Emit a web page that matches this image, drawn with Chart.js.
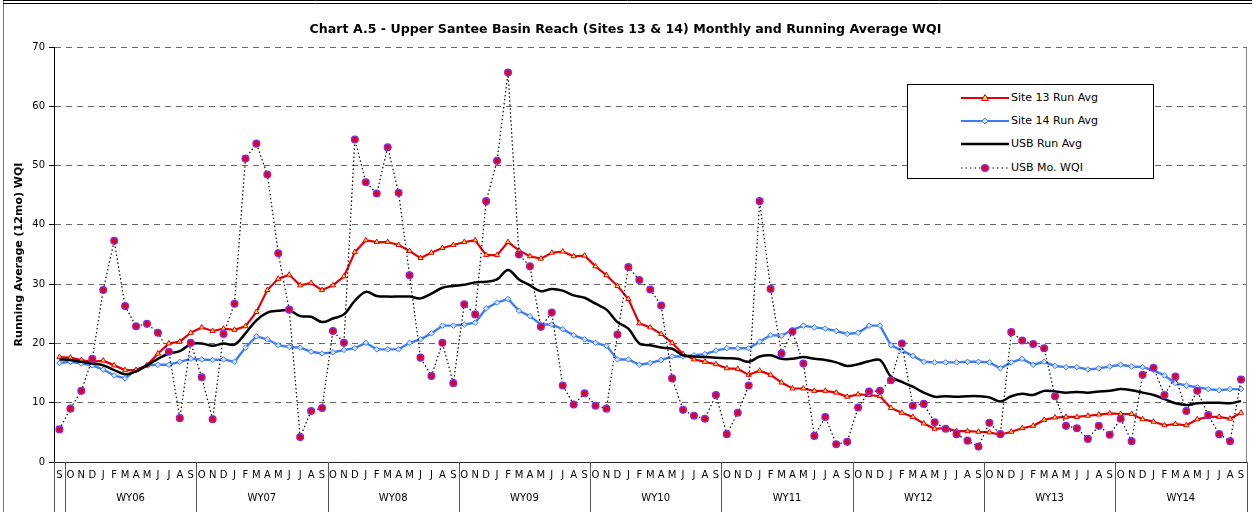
<!DOCTYPE html>
<html>
<head>
<meta charset="utf-8">
<title>Chart A.5 - Upper Santee Basin Reach</title>
<script src="https://cdn.jsdelivr.net/npm/chart.js@4.4.1/dist/chart.umd.min.js"></script>
<style>
  html, body { margin: 0; padding: 0; background: #fff; }
  #wrap { position: relative; width: 1252px; height: 512px; }
  #chart { display: block; }
  #legend {
    position: absolute; left: 907px; top: 84px; width: 245px; height: 93px;
    border: 1px solid #000; background: #fff;
    font: 11px "DejaVu Sans", Verdana, sans-serif; color: #000;
  }
  #legend .item { position: absolute; left: 0; height: 14px; }
  #legend svg { position: absolute; left: 53px; top: 1px; }
  #legend span { position: absolute; left: 103px; top: 0; line-height: 14px; white-space: nowrap; }
</style>
</head>
<body>
<div id="wrap">
  <canvas id="chart" width="1252" height="512"></canvas>
  <div id="legend">
    <div class="item" style="top:6px">
      <svg width="48" height="12"><line x1="0" y1="6" x2="48" y2="6" stroke="#e3000f" stroke-width="2"/><polygon points="24,2.5 27.5,8.5 20.5,8.5" fill="#ffe040" stroke="#e3000f" stroke-width="1"/></svg>
      <span>Site 13 Run Avg</span>
    </div>
    <div class="item" style="top:29px">
      <svg width="48" height="12"><line x1="0" y1="6" x2="48" y2="6" stroke="#3f7ef2" stroke-width="2"/><polygon points="24,3 27,6 24,9 21,6" fill="#cfe0ff" stroke="#3f7ef2" stroke-width="1"/></svg>
      <span>Site 14 Run Avg</span>
    </div>
    <div class="item" style="top:52px">
      <svg width="48" height="12"><line x1="0" y1="6" x2="48" y2="6" stroke="#000" stroke-width="2.5"/></svg>
      <span>USB Run Avg</span>
    </div>
    <div class="item" style="top:76px">
      <svg width="48" height="12"><line x1="0" y1="6" x2="48" y2="6" stroke="#000" stroke-width="1" stroke-dasharray="1.5,3"/><circle cx="24" cy="6" r="3.3" fill="#e3000f" stroke="#8a2be2" stroke-width="1.5"/></svg>
      <span>USB Mo. WQI</span>
    </div>
  </div>
</div>
<script>
const monthCycle = ['O', 'N', 'D', 'J', 'F', 'M', 'A', 'M', 'J', 'J', 'A', 'S'];
const waterYears = ['WY06', 'WY07', 'WY08', 'WY09', 'WY10', 'WY11', 'WY12', 'WY13', 'WY14'];
const yTicks = [0, 10, 20, 30, 40, 50, 60, 70];

// Sep 2005 then Oct..Sep for each water year
const months = ['S'];
waterYears.forEach(() => months.push(...monthCycle));

const site13RunAvg = [
  17.7, 17.6, 17.2, 16.9, 17.1, 16.3, 15.5, 15.5, 16.3, 18.3, 20.0, 20.3, 21.8, 22.7, 22.1, 22.5, 22.3, 22.9, 25.3, 29.0,
  30.9, 31.6, 29.8, 30.2, 29.0, 29.8, 31.3, 35.4,
  37.4, 37.1, 37.1, 36.6, 35.6, 34.4, 35.3, 36.1, 36.6, 37.1, 37.4, 34.9, 34.9, 37.1, 35.7, 34.7, 34.3, 35.3, 35.5, 34.7,
  34.8, 33.0, 31.5, 29.7, 27.5, 23.4, 22.7,
  21.6, 20.1, 18.2, 17.3, 16.9, 16.5, 15.8, 15.7, 14.7, 15.4, 14.7, 13.4, 12.4, 12.4, 12.0, 12.0, 11.7, 11.0, 11.4, 11.3,
  11.1, 9.1, 8.3, 7.6, 6.5, 5.6, 5.7, 5.2,
  5.2, 5.1, 5.0, 4.6, 5.1, 5.7, 6.1, 7.1, 7.5, 7.6, 7.6, 7.8, 8.0, 8.2, 8.1, 8.1, 7.2, 6.8, 6.2, 6.4, 6.2, 7.2, 7.6, 7.6,
  7.3, 8.3,
];

const site14RunAvg = [
  16.7, 16.9, 16.6, 16.3, 15.6, 14.6, 14.1, 15.5, 16.3, 16.4, 16.4, 16.9, 17.4, 17.3, 17.2, 17.3, 16.9, 19.3, 21.2, 20.7,
  19.7, 19.4, 19.3, 18.6, 18.3, 18.5, 18.9, 19.2,
  20.1, 19.0, 19.0, 19.0, 20.1, 20.7, 21.7, 23.0, 23.0, 23.2, 23.5, 25.9, 26.9, 27.5, 25.5, 24.6, 23.2, 23.2, 22.4, 21.4,
  20.7, 20.1, 19.6, 17.3, 17.3, 16.4, 16.7,
  17.2, 17.8, 17.8, 18.0, 18.2, 18.8, 19.2, 19.2, 19.2, 20.3, 21.4, 21.3, 22.3, 23.0, 22.7, 22.5, 22.1, 21.6, 21.8, 23.0,
  23.0, 19.7, 18.8, 17.9, 16.9, 16.8, 16.8, 16.8,
  16.9, 16.9, 16.8, 15.8, 16.8, 17.4, 16.4, 16.9, 16.2, 16.0, 16.0, 15.6, 15.8, 16.1, 16.4, 16.1, 16.0, 15.5, 14.6, 13.3,
  12.9, 12.6, 12.3, 12.1, 12.3, 12.3,
];

const usbRunAvg = [
  17.3, 17.2, 16.9, 16.6, 16.3, 15.5, 14.8, 15.3, 16.3, 17.4, 18.3, 18.7, 19.9, 20.0, 19.6, 20.0, 19.8, 21.7, 23.9, 25.2,
  25.5, 25.6, 24.6, 24.5, 23.6, 24.2, 24.9, 27.2,
  28.7, 28.0, 27.9, 27.9, 27.9, 27.6, 28.4, 29.4, 29.7, 29.9, 30.3, 30.4, 30.8, 32.4, 30.8, 29.8, 28.8, 29.2, 28.9, 28.1,
  27.7, 26.7, 25.7, 23.6, 22.5, 20.0, 19.7,
  19.3, 19.1, 18.0, 17.8, 17.7, 17.6, 17.5, 17.4, 16.9, 17.8, 18.0, 17.4, 17.4, 17.7, 17.4, 17.2, 16.8, 16.2, 16.5, 17.0,
  17.2, 14.4, 13.5, 12.7, 11.7, 11.0, 11.1, 11.0,
  11.1, 11.1, 10.9, 10.2, 11.1, 11.5, 11.3, 12.0, 11.9, 11.7, 11.8, 11.7, 11.9, 12.0, 12.3, 12.1, 11.7, 11.3, 10.6, 9.9,
  9.6, 9.9, 10.0, 10.0, 9.9, 10.3,
];

const usbMonthly = [
  5.5, 9.0, 12.0, 17.4, 29.0, 37.3, 26.3, 22.9, 23.3, 21.8, 18.6, 7.4, 20.1, 14.3, 7.2, 21.6, 26.7, 51.2, 53.7, 48.5,
  35.2, 25.7, 4.2, 8.6, 9.1, 22.1, 20.1, 54.4,
  47.2, 45.3, 53.1, 45.4, 31.5, 17.6, 14.5, 20.1, 13.3, 26.6, 24.9, 44.0, 50.8, 65.7, 35.0, 33.0, 22.8, 25.2, 12.9, 9.7,
  11.6, 9.5, 9.0, 21.5, 32.9, 30.7, 29.1,
  26.4, 14.1, 8.8, 7.8, 7.3, 11.3, 4.7, 8.3, 12.9, 44.0, 29.2, 18.3, 22.0, 16.6, 4.4, 7.6, 3.0, 3.4, 9.2, 11.9,
  12.0, 13.8, 20.0, 9.5, 9.8, 6.7, 5.6, 4.7,
  3.6, 2.6, 6.6, 4.7, 21.9, 20.5, 19.9, 19.2, 11.1, 6.1, 5.7, 3.9, 6.1, 4.6, 7.3, 3.5, 14.7, 15.9, 11.3, 14.4,
  8.6, 12.0, 7.9, 4.7, 3.5, 13.9,
];

const FONT = '"DejaVu Sans", Verdana, sans-serif';
Chart.defaults.font.family = FONT;
Chart.defaults.color = '#000';

function line(ctx, x1, y1, x2, y2) {
  ctx.beginPath();
  ctx.moveTo(x1, y1);
  ctx.lineTo(x2, y2);
  ctx.stroke();
}

// year separators and WY labels under the month row, plus the frame
const decor = {
  id: 'decor',
  afterDraw(chart) {
    const { ctx, chartArea: area, scales: { x } } = chart;
    const step = x.getPixelForValue(1) - x.getPixelForValue(0);
    ctx.save();
    ctx.lineWidth = 1;

    ctx.strokeStyle = '#888';
    line(ctx, Math.round(area.right) - 0.5, area.top, Math.round(area.right) - 0.5, area.bottom);

    ctx.strokeStyle = '#555';
    const edges = [x.getPixelForValue(0) - step / 2];
    waterYears.forEach((wy, k) => edges.push(x.getPixelForValue(1 + 12 * k) - step / 2));
    edges.push(x.getPixelForValue(months.length - 1) + step / 2);
    edges.forEach((px) => {
      const sx = Math.round(px) + 0.5;
      line(ctx, sx, area.bottom, sx, chart.height);
    });

    ctx.fillStyle = '#000';
    ctx.font = '10px ' + FONT;
    ctx.textAlign = 'center';
    ctx.textBaseline = 'middle';
    waterYears.forEach((wy, k) => {
      const a = x.getPixelForValue(1 + 12 * k);
      const b = x.getPixelForValue(12 + 12 * k);
      ctx.fillText(wy, (a + b) / 2, 498);
    });

    ctx.strokeStyle = '#777';
    line(ctx, 3.5, 0, 3.5, chart.height);
    ctx.strokeStyle = '#000';
    line(ctx, 3, 0.5, chart.width, 0.5);
    line(ctx, 3, 3.5, chart.width, 3.5);
    ctx.restore();
  },
};

new Chart(document.getElementById('chart'), {
  type: 'line',
  data: {
    labels: months,
    datasets: [
      {
        label: 'USB Mo. WQI',
        data: usbMonthly,
        order: 0,
        borderColor: '#000',
        borderWidth: 1.2,
        borderDash: [1.5, 2.5],
        tension: 0,
        pointStyle: 'circle',
        pointRadius: 3.3,
        pointBackgroundColor: '#e3000f',
        pointBorderColor: '#8a2be2',
        pointBorderWidth: 1.5,
      },
      {
        label: 'Site 13 Run Avg',
        data: site13RunAvg,
        order: 2,
        borderColor: '#e3000f',
        borderWidth: 2.2,
        tension: 0,
        pointStyle: 'triangle',
        pointRadius: 3,
        pointBackgroundColor: '#ffe040',
        pointBorderColor: '#e3000f',
        pointBorderWidth: 1,
      },
      {
        label: 'Site 14 Run Avg',
        data: site14RunAvg,
        order: 3,
        borderColor: '#3f7ef2',
        borderWidth: 2.4,
        tension: 0,
        pointStyle: 'rectRot',
        pointRadius: 2.8,
        pointBackgroundColor: '#cfe0ff',
        pointBorderColor: '#3f7ef2',
        pointBorderWidth: 1,
      },
      {
        label: 'USB Run Avg',
        data: usbRunAvg,
        order: 1,
        borderColor: '#000',
        borderWidth: 2.5,
        tension: 0.35,
        pointRadius: 0,
      },
    ],
  },
  options: {
    responsive: false,
    animation: false,
    layout: { padding: { left: 3, right: 4, top: 0, bottom: 0 } },
    plugins: {
      legend: { display: false },
      tooltip: { enabled: false },
      title: {
        display: true,
        text: 'Chart A.5 - Upper Santee Basin Reach (Sites 13 & 14) Monthly and Running Average WQI',
        color: '#000',
        font: { size: 12.6, weight: 'bold' },
        padding: { top: 22.5, bottom: 9.4 },
      },
    },
    scales: {
      x: {
        type: 'category',
        offset: true,
        grid: { display: false, drawTicks: false, offset: true },
        border: { display: true, color: '#222', width: 1 },
        ticks: { autoSkip: false, maxRotation: 0, minRotation: 0, padding: 7, font: { size: 10 }, color: '#000' },
        afterFit(scale) { scale.height = 50; },
      },
      y: {
        min: 0,
        max: 70,
        afterBuildTicks(scale) { scale.ticks = yTicks.map((v) => ({ value: v })); },
        afterFit(scale) { scale.width = 51; },
        grid: { color: '#666', lineWidth: 1, tickLength: 5, tickColor: '#000', tickBorderDash: [] },
        border: { display: true, color: '#000', width: 1, dash: [6, 5] },
        ticks: { padding: 4, font: { size: 10 }, color: '#000' },
        title: {
          display: true,
          text: 'Running Average (12mo) WQI',
          color: '#000',
          font: { size: 11, weight: 'bold' },
          padding: { top: 10, bottom: 0 },
        },
      },
    },
  },
  plugins: [decor],
});
</script>
</body>
</html>
